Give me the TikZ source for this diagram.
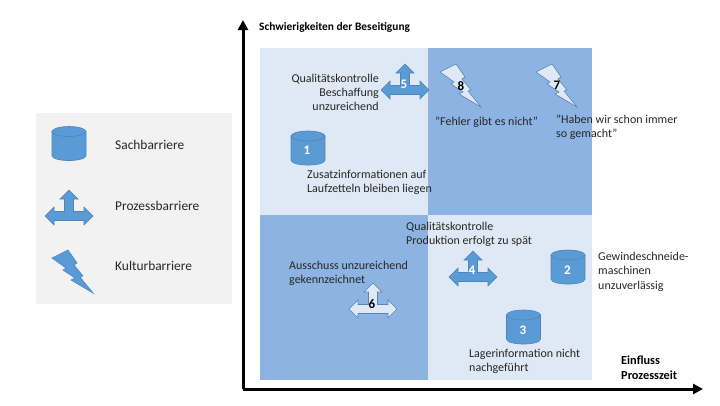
\documentclass[tikz,border=0pt]{standalone}
\usepackage{fontspec}
\setmainfont{Carlito}
\usetikzlibrary{arrows.meta}
\definecolor{barblue}{HTML}{5B9BD5}
\definecolor{baredge}{HTML}{4A86BC}
\definecolor{quadlight}{HTML}{DFE9F5}
\definecolor{quaddark}{HTML}{8DB3E2}
\definecolor{legendbg}{HTML}{F2F2F2}
\definecolor{txt}{HTML}{262626}
\tikzset{
  label/.style={anchor=north west, inner sep=0pt, align=left, text=txt, font=\fontsize{12}{14.3}\selectfont},
  legendlabel/.style={label, font=\fontsize{13.4}{16}\selectfont},
  numwhite/.style={inner sep=0pt, text=white, font=\fontsize{13}{14}\selectfont\bfseries},
  numblack/.style={inner sep=0pt, text=black, font=\fontsize{13}{14}\selectfont\bfseries},
  solidbar/.style={fill=barblue, draw=baredge, line width=0.6pt},
  palebar/.style={fill=quadlight, draw=baredge!80!gray, line width=0.6pt},
  pics/barrel/.style={code={
    \path[solidbar] (-17,-12) -- (-17,12) .. controls (-17,18.7) and (17,18.7) .. (17,12) -- (17,-12) -- cycle;
    \path[solidbar] (0,-12) ellipse (17 and 5);
  }},
  pics/tarrow/.style={code={
    \path[#1] (0,-26) -- (9,-17) -- (4.5,-17) -- (4.5,-4.5) -- (15,-4.5) -- (15,-9) -- (24,0) -- (15,9) -- (15,4.5)
      -- (-15,4.5) -- (-15,9) -- (-24,0) -- (-15,-9) -- (-15,-4.5) -- (-4.5,-4.5) -- (-4.5,-17) -- (-9,-17) -- cycle;
  }},
  pics/bolt/.style={code={
    \path[#1] (-20,-14) -- (-4,-22) -- (5,-9) -- (2,-7) -- (11,4) -- (8,5) -- (21,21) -- (-1,8) -- (3,6) -- (-9,-2) -- (-6,-4) -- cycle;
  }}
}

\begin{document}
\begin{tikzpicture}[x=1pt, y=-1pt]
  \useasboundingbox (0,0) rectangle (720,405);
  % legend
  \fill[legendbg] (36,113) rectangle (232,304);
  \pic at (69,143.5) {barrel};
  \pic at (69,216) {tarrow=solidbar};
  \pic at (72,272) {bolt=solidbar};
  \node[legendlabel] (sach) at (115,140) {Sachbarriere};
  \node[legendlabel] (prozess) at (115,201) {Prozessbarriere};
  \node[legendlabel] (kultur) at (115,261) {Kulturbarriere};
  % quadrants
  \fill[quadlight] (260,48) rectangle (428,214.5);
  \fill[quaddark] (428,48) rectangle (592,214.5);
  \fill[quaddark] (260,214.5) rectangle (428,380);
  \fill[quadlight] (428,214.5) rectangle (592,380);
  % axes
  \coordinate (origin) at (243,389);
  \coordinate (ytop) at (243,20);
  \coordinate (xend) at (703,389);
  \draw[line width=3pt, -{Triangle[length=10pt, width=10pt]}] (origin) -- (ytop);
  \draw[line width=3pt, -{Triangle[length=10pt, width=10pt]}] (origin) -- (xend);
  \node[label, text=black, font=\fontsize{11.4}{14.3}\selectfont\bfseries] (yname) at (259,22) {Schwierigkeiten der Beseitigung};
  \node[label, text=black, font=\fontsize{12.3}{15}\selectfont\bfseries] (xname) at (621,355.5) {Einfluss\\Prozesszeit};
  % barriers
  \pic at (308,148) {barrel};
  \node[numwhite] (n1) at (307,150) {1};
  \node[label] (t1) at (307,170) {Zusatzinformationen auf\\Laufzetteln bleiben liegen};
  \pic at (568,267) {barrel};
  \node[numwhite] (n2) at (567.5,270) {2};
  \node[label] (t2) at (598,252) {Gewindeschneide-\\maschinen\\unzuverlässig};
  \pic at (523.5,327) {barrel};
  \node[numwhite] (n3) at (523,330) {3};
  \node[label] (t3) at (469,349) {Lagerinformation nicht\\nachgeführt};
  \pic at (473,277) {tarrow=solidbar};
  \node[numwhite] (n4) at (472,270) {4};
  \node[label] (t4) at (406,222) {Qualitätskontrolle\\Produktion erfolgt zu spät};
  \pic at (405,90) {tarrow=solidbar};
  \node[numwhite] (n5) at (404,84) {5};
  \node[label, anchor=north east, align=right] (t5) at (379,73.5) {Qualitätskontrolle\\Beschaffung\\unzureichend};
  \pic at (373,309) {tarrow=palebar};
  \node[numblack] (n6) at (372,304) {6};
  \node[label] (t6) at (289,261) {Ausschuss unzureichend\\gekennzeichnet};
  \pic at (556,86) {bolt=palebar};
  \node[numblack] (n7) at (557,85) {7};
  \node[label] (t7) at (556,114.5) {"Haben wir schon immer\\so gemacht"};
  \pic at (460,86) {bolt=palebar};
  \node[numblack] (n8) at (461,86) {8};
  \node[label] (t8) at (435,116.5) {"Fehler gibt es nicht"};
\end{tikzpicture}
\end{document}
